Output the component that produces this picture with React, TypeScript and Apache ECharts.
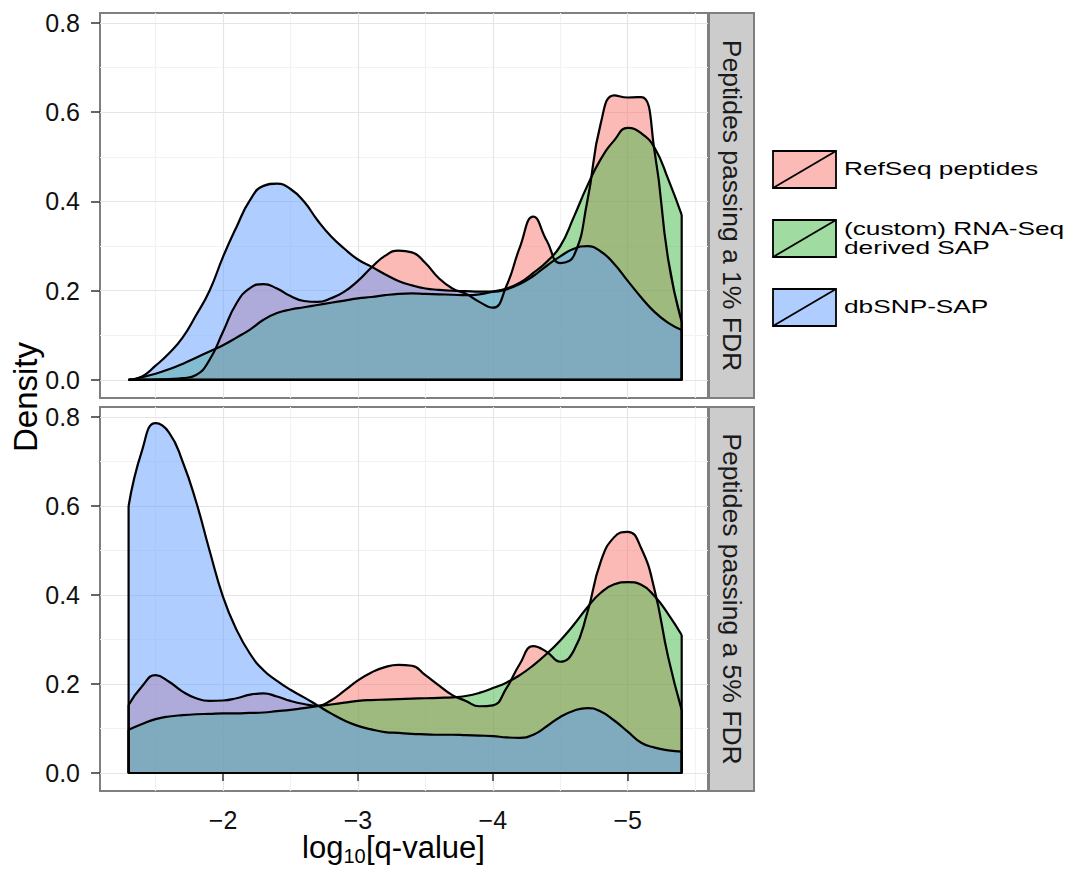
import React, { useEffect, useRef } from "react";
import * as echarts from "echarts";

// x positions (log10 q-value), shared by every density curve
const X = [-1.3, -1.4, -1.5, -1.6, -1.7, -1.8, -1.9, -2.0, -2.1, -2.2, -2.3, -2.4, -2.5, -2.6, -2.7, -2.8, -2.9, -3.0, -3.1, -3.2, -3.3, -3.4, -3.5, -3.6, -3.7, -3.8, -3.9, -4.0, -4.1, -4.2, -4.3, -4.4, -4.5, -4.6, -4.7, -4.8, -4.9, -5.0, -5.1, -5.2, -5.3, -5.4];

// Facet 1: Peptides passing a 1% FDR
const TOP_REFSEQ = [0.0, 0.0, 0.001, 0.002, 0.004, 0.011, 0.045, 0.108, 0.172, 0.206, 0.215, 0.205, 0.188, 0.177, 0.175, 0.183, 0.198, 0.222, 0.252, 0.278, 0.29, 0.286, 0.262, 0.228, 0.205, 0.193, 0.175, 0.162, 0.21, 0.297, 0.366, 0.312, 0.262, 0.278, 0.4, 0.575, 0.638, 0.633, 0.634, 0.51, 0.27, 0.13];
const TOP_RNASEQ = [0.0, 0.006, 0.014, 0.024, 0.036, 0.05, 0.064, 0.078, 0.095, 0.113, 0.135, 0.15, 0.158, 0.163, 0.168, 0.173, 0.178, 0.183, 0.186, 0.19, 0.193, 0.194, 0.193, 0.192, 0.191, 0.19, 0.192, 0.198, 0.205, 0.218, 0.24, 0.265, 0.3, 0.365, 0.435, 0.495, 0.537, 0.565, 0.553, 0.52, 0.45, 0.37];
const TOP_DBSNP = [0.0, 0.008, 0.032, 0.06, 0.095, 0.145, 0.2, 0.276, 0.343, 0.403, 0.435, 0.44, 0.428, 0.4, 0.358, 0.322, 0.294, 0.27, 0.254, 0.237, 0.222, 0.212, 0.205, 0.202, 0.2, 0.199, 0.198, 0.198, 0.203, 0.215, 0.233, 0.256, 0.277, 0.294, 0.3, 0.288, 0.26, 0.222, 0.185, 0.152, 0.128, 0.112];

// Facet 2: Peptides passing a 5% FDR
const BOT_REFSEQ = [0.153, 0.195, 0.22, 0.205, 0.183, 0.168, 0.162, 0.163, 0.168, 0.176, 0.179, 0.172, 0.162, 0.155, 0.151, 0.163, 0.185, 0.208, 0.226, 0.238, 0.243, 0.241, 0.22, 0.197, 0.175, 0.162, 0.15, 0.152, 0.19, 0.245, 0.285, 0.272, 0.25, 0.275, 0.36, 0.475, 0.53, 0.542, 0.505, 0.41, 0.26, 0.142];
const BOT_RNASEQ = [0.097, 0.11, 0.121, 0.127, 0.13, 0.132, 0.133, 0.134, 0.134, 0.135, 0.136, 0.139, 0.142, 0.146, 0.15, 0.154, 0.158, 0.162, 0.164, 0.165, 0.166, 0.167, 0.168, 0.169, 0.17, 0.173, 0.18, 0.191, 0.203, 0.22, 0.242, 0.268, 0.298, 0.333, 0.372, 0.405, 0.424, 0.429, 0.423, 0.397, 0.357, 0.31];
const BOT_DBSNP = [0.6, 0.725, 0.786, 0.765, 0.7, 0.61, 0.5, 0.396, 0.322, 0.268, 0.231, 0.207, 0.187, 0.17, 0.152, 0.134, 0.118, 0.106, 0.098, 0.092, 0.09, 0.088, 0.087, 0.086, 0.086, 0.085, 0.084, 0.083, 0.08, 0.079, 0.086, 0.105, 0.126, 0.14, 0.146, 0.138, 0.118, 0.093, 0.068, 0.057, 0.051, 0.048];

const GROUPS = ["RefSeq peptides", "(custom) RNA-Seq\nderived SAP", "dbSNP-SAP"];
const FILLS = ["rgba(248,118,109,0.5)", "rgba(66,186,70,0.5)", "rgba(97,156,255,0.5)"];
const FACETS = ["Peptides passing a 1% FDR", "Peptides passing a 5% FDR"];
const FACET_DATA = [
  [TOP_REFSEQ, TOP_RNASEQ, TOP_DBSNP],
  [BOT_REFSEQ, BOT_RNASEQ, BOT_DBSNP],
];
const X_TICKS = [-2, -3, -4, -5];
const X_MINOR = [-1.5, -2.5, -3.5, -4.5, -5.5];
const Y_TICKS = [0, 0.2, 0.4, 0.6, 0.8];
const Y_MINOR = [0.1, 0.3, 0.5, 0.7];

const FONT = "'Liberation Sans', Arial, Helvetica, sans-serif";

const PANEL_LEFT = 100;
const PANEL_W = 608;
const PANELS = [
  { top: 13, height: 385 },
  { top: 407, height: 384 },
];
const X_MIN = -5.595;
const X_MAX = -1.088;
const Y_MIN = -0.0404;
const Y_MAX = 0.8224;
const LW = 2.2;

function pairs(ys: number[]) {
  return X.map((x, i) => [x, ys[i]]);
}
function edges(ys: number[]) {
  const n = X.length - 1;
  return [
    [X[0], ys[0]],
    [X[0], 0],
    [X[n], 0],
    [X[n], ys[n]],
  ];
}

function txt(text: string, x: number, y: number, size: number, extra: any = {}) {
  return {
    type: "text",
    x,
    y,
    z: 11,
    ...extra,
    style: {
      text,
      fontSize: size,
      fontFamily: FONT,
      fill: "#000",
      textAlign: "left",
      textVerticalAlign: "middle",
      ...(extra.style || {}),
    },
  };
}

function buildOption() {
  const series: any[] = [];
  PANELS.forEach((_, g) => {
    // grid lines (behind the densities)
    series.push({
      type: "line",
      xAxisIndex: g,
      yAxisIndex: g,
      data: [[X[0], 0]],
      showSymbol: false,
      silent: true,
      lineStyle: { opacity: 0 },
      z: 0,
      markLine: {
        z: 0,
        silent: true,
        animation: false,
        symbol: ["none", "none"],
        label: { show: false },
        emphasis: { disabled: true },
        data: [
          ...Y_MINOR.map((v) => ({ yAxis: v, lineStyle: { color: "#F2F2F2", width: 1.2, type: "solid" } })),
          ...X_MINOR.map((v) => ({ xAxis: v, lineStyle: { color: "#F2F2F2", width: 1.2, type: "solid" } })),
          ...Y_TICKS.map((v) => ({ yAxis: v, lineStyle: { color: "#E5E5E5", width: 1.2, type: "solid" } })),
          ...X_TICKS.map((v) => ({ xAxis: v, lineStyle: { color: "#E5E5E5", width: 1.2, type: "solid" } })),
        ],
      },
    });
    FACET_DATA[g].forEach((ys, k) => {
      series.push({
        name: GROUPS[k],
        type: "line",
        xAxisIndex: g,
        yAxisIndex: g,
        data: pairs(ys),
        smooth: 0.5,
        showSymbol: false,
        silent: true,
        z: 2,
        lineStyle: { color: "#000", width: LW },
        areaStyle: { color: FILLS[k], opacity: 1, origin: 0 },
      });
      series.push({
        type: "line",
        xAxisIndex: g,
        yAxisIndex: g,
        data: edges(ys),
        smooth: false,
        showSymbol: false,
        silent: true,
        z: 2,
        lineStyle: { color: "#000", width: LW },
      });
    });
  });

  const graphic: any[] = [];
  // facet strips
  PANELS.forEach((p, g) => {
    graphic.push({
      type: "rect",
      shape: { x: 709, y: p.top, width: 45, height: p.height },
      style: { fill: "#CCCCCC", stroke: "#7F7F7F", lineWidth: 2 },
      z: 10,
    });
    graphic.push(
      txt(FACETS[g], 731.5, p.top + p.height / 2, 26.5, {
        rotation: -Math.PI / 2,
        style: { textAlign: "center", fill: "#1A1A1A" },
      })
    );
  });

  // axis titles
  graphic.push(txt("Density", 25, 397, 33, { rotation: Math.PI / 2, style: { textAlign: "center" } }));
  // log10[q-value] with a lowered subscript
  graphic.push(txt("log", 302, 847, 31));
  graphic.push(txt("10", 343.5, 855.5, 20));
  graphic.push(txt("[q-value]", 366, 847, 31));

  // legend
  const keyY = [151, 220, 289];
  GROUPS.forEach((name, k) => {
    graphic.push({
      type: "rect",
      shape: { x: 773, y: keyY[k], width: 63, height: 37 },
      style: { fill: FILLS[k], stroke: "#000", lineWidth: 1.8 },
      z: 11,
    });
    graphic.push({
      type: "line",
      shape: { x1: 773, y1: keyY[k] + 37, x2: 836, y2: keyY[k] },
      style: { stroke: "#000", lineWidth: 1.8 },
      z: 12,
    });
    graphic.push(
      txt(name, 844, keyY[k] + 18.5, 17.5, {
        scaleX: 1.5,
        z: 12,
        style: { lineHeight: 19 },
      })
    );
  });

  return {
    animation: false,
    backgroundColor: "#fff",
    grid: PANELS.map((p) => ({
      left: PANEL_LEFT,
      top: p.top,
      width: PANEL_W,
      height: p.height,
      show: true,
      backgroundColor: "#fff",
      borderColor: "#7F7F7F",
      borderWidth: 2,
    })),
    xAxis: PANELS.map((_, g) => ({
      type: "value",
      gridIndex: g,
      inverse: true,
      min: X_MIN,
      max: X_MAX,
      axisLine: { show: false },
      splitLine: { show: false },
      axisTick: {
        show: g === 1,
        customValues: X_TICKS,
        length: 8,
        lineStyle: { color: "#333", width: 1.5 },
      },
      axisLabel: {
        show: g === 1,
        customValues: X_TICKS,
        margin: 16,
        fontSize: 25,
        fontFamily: FONT,
        color: "#111",
        formatter: (v: number) => "\u2212" + Math.abs(v),
      },
    })),
    yAxis: PANELS.map((_, g) => ({
      type: "value",
      gridIndex: g,
      min: Y_MIN,
      max: Y_MAX,
      axisLine: { show: false },
      splitLine: { show: false },
      axisTick: {
        show: true,
        customValues: Y_TICKS,
        length: 9,
        lineStyle: { color: "#333", width: 1.5 },
      },
      axisLabel: {
        customValues: Y_TICKS,
        margin: 20,
        fontSize: 25,
        fontFamily: FONT,
        color: "#111",
        formatter: (v: number) => v.toFixed(1),
      },
    })),
    series,
    graphic,
  };
}

export default function App() {
  const ref = useRef<HTMLDivElement>(null);
  useEffect(() => {
    if (!ref.current) return;
    const chart = echarts.init(ref.current, undefined, { renderer: "svg" });
    chart.setOption(buildOption() as any);
    return () => chart.dispose();
  }, []);
  return (
    <div
      ref={ref}
      style={{ position: "fixed", left: 0, top: 0, width: 1070, height: 869, background: "#fff" }}
    />
  );
}
